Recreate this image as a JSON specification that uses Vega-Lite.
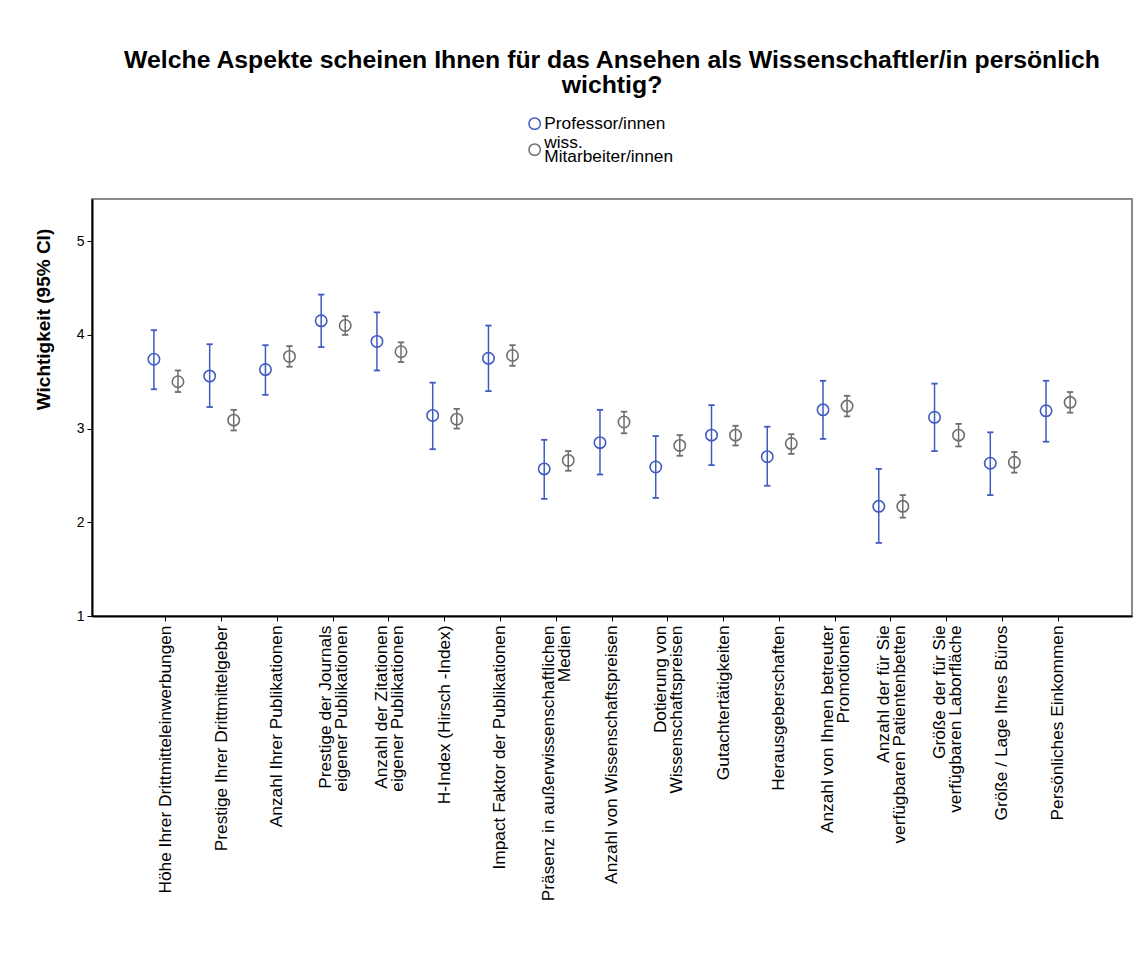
{
  "$schema": "https://vega.github.io/schema/vega-lite/v6.json",
  "autosize": {"type": "none"},
  "padding": {"left": 92, "top": 199, "right": 10, "bottom": 343},
  "width": 1040,
  "height": 417,
  "background": "white",
  "title": {
    "text": ["Welche Aspekte scheinen Ihnen für das Ansehen als Wissenschaftler/in persönlich", "wichtig?"],
    "font": "Liberation Sans",
    "fontSize": 24.8,
    "fontWeight": "bold",
    "color": "black",
    "anchor": "middle",
    "offset": 17,
    "lineHeight": 25
  },
  "data": {
    "values": [
      {"aspect": "Höhe Ihrer Drittmitteleinwerbungen", "group": "Professor/innen", "mean": 3.74, "lo": 3.42, "hi": 4.05},
      {"aspect": "Höhe Ihrer Drittmitteleinwerbungen", "group": "wiss. Mitarbeiter/innen", "mean": 3.50, "lo": 3.39, "hi": 3.62},
      {"aspect": "Prestige Ihrer Drittmittelgeber", "group": "Professor/innen", "mean": 3.56, "lo": 3.23, "hi": 3.90},
      {"aspect": "Prestige Ihrer Drittmittelgeber", "group": "wiss. Mitarbeiter/innen", "mean": 3.09, "lo": 2.98, "hi": 3.20},
      {"aspect": "Anzahl Ihrer Publikationen", "group": "Professor/innen", "mean": 3.63, "lo": 3.36, "hi": 3.89},
      {"aspect": "Anzahl Ihrer Publikationen", "group": "wiss. Mitarbeiter/innen", "mean": 3.77, "lo": 3.66, "hi": 3.88},
      {"aspect": "Prestige der Journals|eigener Publikationen", "group": "Professor/innen", "mean": 4.15, "lo": 3.87, "hi": 4.43},
      {"aspect": "Prestige der Journals|eigener Publikationen", "group": "wiss. Mitarbeiter/innen", "mean": 4.10, "lo": 4.00, "hi": 4.20},
      {"aspect": "Anzahl der Zitationen|eigener Publikationen", "group": "Professor/innen", "mean": 3.93, "lo": 3.62, "hi": 4.24},
      {"aspect": "Anzahl der Zitationen|eigener Publikationen", "group": "wiss. Mitarbeiter/innen", "mean": 3.82, "lo": 3.71, "hi": 3.92},
      {"aspect": "H-Index (Hirsch -Index)", "group": "Professor/innen", "mean": 3.14, "lo": 2.78, "hi": 3.49},
      {"aspect": "H-Index (Hirsch -Index)", "group": "wiss. Mitarbeiter/innen", "mean": 3.10, "lo": 3.00, "hi": 3.21},
      {"aspect": "Impact Faktor der Publikationen", "group": "Professor/innen", "mean": 3.75, "lo": 3.40, "hi": 4.10},
      {"aspect": "Impact Faktor der Publikationen", "group": "wiss. Mitarbeiter/innen", "mean": 3.78, "lo": 3.67, "hi": 3.89},
      {"aspect": "Präsenz in außerwissenschaftlichen|Medien", "group": "Professor/innen", "mean": 2.57, "lo": 2.25, "hi": 2.88},
      {"aspect": "Präsenz in außerwissenschaftlichen|Medien", "group": "wiss. Mitarbeiter/innen", "mean": 2.66, "lo": 2.55, "hi": 2.76},
      {"aspect": "Anzahl von Wissenschaftspreisen", "group": "Professor/innen", "mean": 2.85, "lo": 2.51, "hi": 3.20},
      {"aspect": "Anzahl von Wissenschaftspreisen", "group": "wiss. Mitarbeiter/innen", "mean": 3.07, "lo": 2.95, "hi": 3.18},
      {"aspect": "Dotierung von|Wissenschaftspreisen", "group": "Professor/innen", "mean": 2.59, "lo": 2.26, "hi": 2.92},
      {"aspect": "Dotierung von|Wissenschaftspreisen", "group": "wiss. Mitarbeiter/innen", "mean": 2.82, "lo": 2.71, "hi": 2.93},
      {"aspect": "Gutachtertätigkeiten", "group": "Professor/innen", "mean": 2.93, "lo": 2.61, "hi": 3.25},
      {"aspect": "Gutachtertätigkeiten", "group": "wiss. Mitarbeiter/innen", "mean": 2.93, "lo": 2.82, "hi": 3.03},
      {"aspect": "Herausgeberschaften", "group": "Professor/innen", "mean": 2.70, "lo": 2.39, "hi": 3.02},
      {"aspect": "Herausgeberschaften", "group": "wiss. Mitarbeiter/innen", "mean": 2.84, "lo": 2.73, "hi": 2.94},
      {"aspect": "Anzahl von Ihnen betreuter|Promotionen", "group": "Professor/innen", "mean": 3.20, "lo": 2.89, "hi": 3.51},
      {"aspect": "Anzahl von Ihnen betreuter|Promotionen", "group": "wiss. Mitarbeiter/innen", "mean": 3.24, "lo": 3.13, "hi": 3.35},
      {"aspect": "Anzahl der für Sie|verfügbaren Patientenbetten", "group": "Professor/innen", "mean": 2.17, "lo": 1.78, "hi": 2.57},
      {"aspect": "Anzahl der für Sie|verfügbaren Patientenbetten", "group": "wiss. Mitarbeiter/innen", "mean": 2.17, "lo": 2.05, "hi": 2.29},
      {"aspect": "Größe der für Sie|verfügbaren Laborfläche", "group": "Professor/innen", "mean": 3.12, "lo": 2.76, "hi": 3.48},
      {"aspect": "Größe der für Sie|verfügbaren Laborfläche", "group": "wiss. Mitarbeiter/innen", "mean": 2.93, "lo": 2.81, "hi": 3.05},
      {"aspect": "Größe / Lage Ihres Büros", "group": "Professor/innen", "mean": 2.63, "lo": 2.29, "hi": 2.96},
      {"aspect": "Größe / Lage Ihres Büros", "group": "wiss. Mitarbeiter/innen", "mean": 2.64, "lo": 2.53, "hi": 2.75},
      {"aspect": "Persönliches Einkommen", "group": "Professor/innen", "mean": 3.19, "lo": 2.86, "hi": 3.51},
      {"aspect": "Persönliches Einkommen", "group": "wiss. Mitarbeiter/innen", "mean": 3.28, "lo": 3.17, "hi": 3.39}
    ]
  },
  "encoding": {
    "x": {
      "field": "aspect",
      "type": "nominal",
      "sort": null,
      "scale": {"paddingInner": 0, "paddingOuter": 0.826},
      "axis": {
        "title": null,
        "labelExpr": "split(datum.label, '|')",
        "labelAngle": -90,
        "labelAlign": "right",
        "labelBaseline": "middle",
        "labelFont": "Liberation Sans",
        "labelFontSize": 17.3,
        "labelColor": "black",
        "labelLimit": 400,
        "labelPadding": 4,
        "labelLineHeight": 16,
        "labelOffset": {"condition": {"test": "indexof(datum.value, '|') >= 0", "value": -7}, "value": 0},
        "tickColor": "black",
        "tickSize": 5,
        "domainColor": "black",
        "domainWidth": 2,
        "grid": false
      }
    },
    "xOffset": {
      "field": "group",
      "type": "nominal",
      "scale": {"domain": ["Professor/innen", "wiss. Mitarbeiter/innen"], "paddingInner": 0, "paddingOuter": 0.16}
    },
    "color": {
      "field": "group",
      "type": "nominal",
      "scale": {"domain": ["Professor/innen", "wiss. Mitarbeiter/innen"], "range": ["#3f5bc0", "#6e6e6e"]},
      "legend": {
        "title": null,
        "orient": "none",
        "legendX": 434,
        "legendY": -84,
        "direction": "vertical",
        "symbolType": "circle",
        "symbolSize": 130,
        "symbolStrokeWidth": 1.5,
        "symbolFillColor": "white",
        "symbolOpacity": 1,
        "labelExpr": "datum.label == 'wiss. Mitarbeiter/innen' ? ['wiss.', 'Mitarbeiter/innen'] : datum.label",
        "labelFont": "Liberation Sans",
        "labelFontSize": 17.3,
        "labelColor": "black",
        "labelOffset": 1,
        "rowPadding": 0,
        "encode": {
          "labels": {
            "update": {
              "lineHeight": {"value": 14},
              "dy": {"signal": "datum.value == 'wiss. Mitarbeiter/innen' ? -7 : 0"}
            }
          }
        }
      }
    }
  },
  "layer": [
    {
      "mark": {"type": "rule", "strokeWidth": 1.5},
      "encoding": {
        "y": {"field": "lo", "type": "quantitative"},
        "y2": {"field": "hi"}
      }
    },
    {
      "mark": {"type": "point", "shape": "M-1,0L1,0", "filled": false, "size": 40, "strokeWidth": 1.8, "opacity": 1},
      "encoding": {"y": {"field": "lo", "type": "quantitative"}}
    },
    {
      "mark": {"type": "point", "shape": "M-1,0L1,0", "filled": false, "size": 40, "strokeWidth": 1.8, "opacity": 1},
      "encoding": {"y": {"field": "hi", "type": "quantitative"}}
    },
    {
      "mark": {"type": "point", "shape": "circle", "filled": false, "size": 130, "strokeWidth": 1.6, "opacity": 1},
      "encoding": {
        "y": {
          "field": "mean",
          "type": "quantitative",
          "scale": {"domain": [1, 5.45], "nice": false, "zero": false},
          "axis": {
            "title": "Wichtigkeit (95% CI)",
            "titleFont": "Liberation Sans",
            "titleFontSize": 19,
            "titleFontWeight": "bold",
            "titleColor": "black",
            "titlePadding": 23,
            "titleY": 120,
            "values": [1, 2, 3, 4, 5],
            "format": "d",
            "labelFont": "Liberation Sans",
            "labelFontSize": 14,
            "labelColor": "black",
            "labelPadding": 3,
            "tickColor": "black",
            "tickSize": 5,
            "domainColor": "black",
            "domainWidth": 2,
            "grid": false
          }
        }
      }
    }
  ],
  "config": {
    "view": {"stroke": "#8a8a8a", "strokeWidth": 2},
    "font": "Liberation Sans"
  }
}
